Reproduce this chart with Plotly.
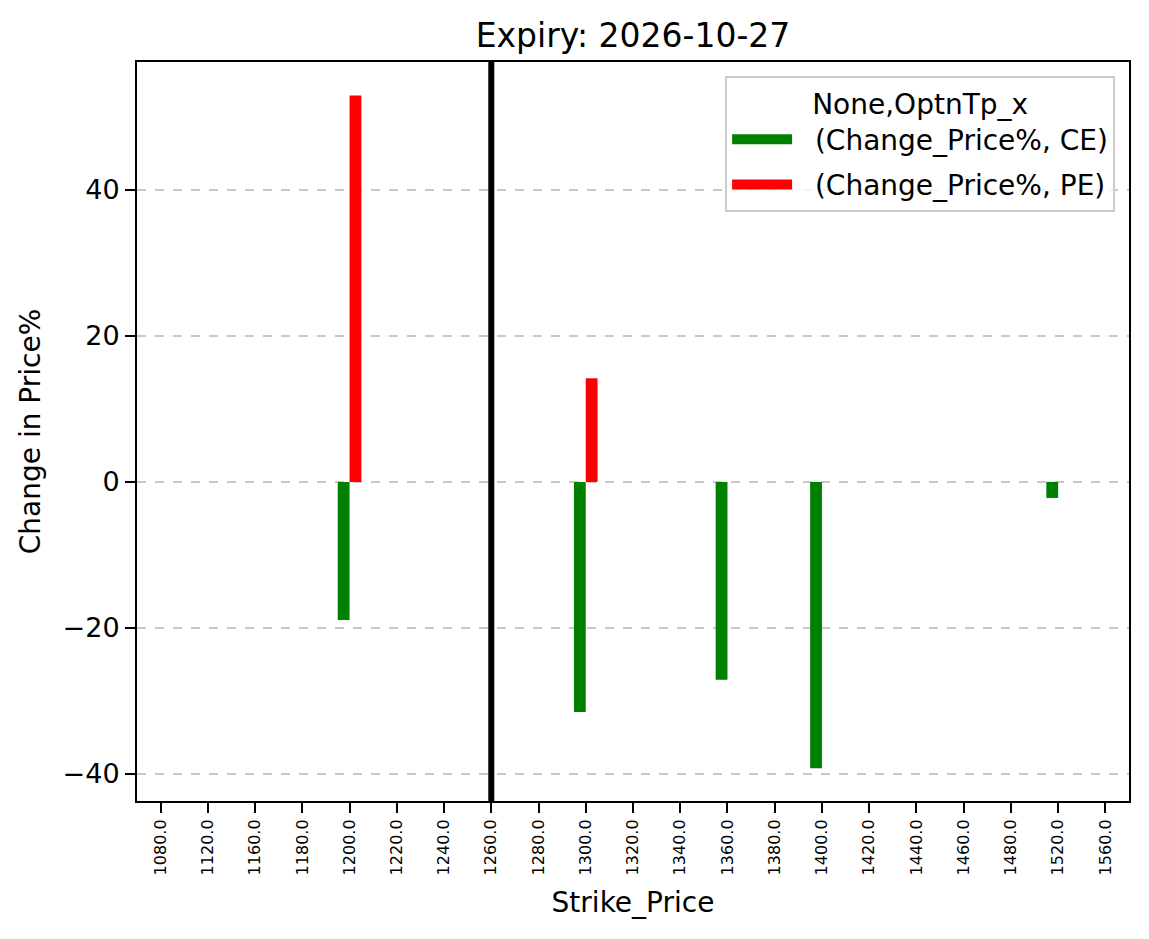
import plotly.graph_objects as go

# strike prices on the x axis (categorical, like pandas bar plot)
strikes = [1080, 1120, 1160, 1180, 1200, 1220, 1240, 1260, 1280, 1300, 1320,
           1340, 1360, 1380, 1400, 1420, 1440, 1460, 1480, 1520, 1560]

# Change_Price% per option type, None where there is no bar
ce_change = [None, None, None, None, -18.9, None, None, None, None, -31.5, None,
             None, -27.1, None, -39.2, None, None, None, None, -2.2, None]
pe_change = [None, None, None, None, 52.9, None, None, None, None, 14.2, None,
             None, None, None, None, None, None, None, None, None, None]

series_names = ["(Change_Price%, CE)", "(Change_Price%, PE)"]
series_colors = ["#008000", "#ff0000"]

spot_strike = 1260
expiry = "2026-10-27"

FONT = "DejaVu Sans"
# the page body adds an 8px margin, so the figure is a bit smaller than the window
W, H = 1141, 931


def build_fig():
    """
    Grouped bar chart of price change for calls and puts per strike
    """
    labels = [f"{s:.1f}" for s in strikes]

    fig = go.Figure()
    for vals, name, color in zip([ce_change, pe_change], series_names, series_colors):
        fig.add_trace(go.Bar(x=labels, y=vals, name=name, showlegend=False,
                             marker=dict(color=color, line=dict(width=0))))
    # legend entries drawn as wide patches, like matplotlib
    for name, color in zip(series_names, series_colors):
        fig.add_trace(go.Scatter(x=[None], y=[None], mode="lines",
                                 name="\u00a0\u00a0" + name, legendgroup=name,
                                 line=dict(color=color, width=18)))

    # black line at the current strike
    fig.add_shape(type="line", xref="x", yref="paper",
                  x0=strikes.index(spot_strike), x1=strikes.index(spot_strike),
                  y0=0, y1=1, line=dict(color="black", width=6))

    fig.update_layout(
        width=W, height=H,
        barmode="group", bargap=0.5, bargroupgap=0,
        plot_bgcolor="white", paper_bgcolor="white",
        font=dict(family=FONT, size=27, color="black"),
        margin=dict(l=129, r=20, t=54, b=138),
        title=dict(text=f"Expiry: {expiry}", x=0.5, xref="paper", xanchor="center",
                   y=1 - 27 / H, yanchor="middle", font=dict(size=33)),
        showlegend=True,
        legend=dict(x=0.986, y=0.981, xanchor="right", yanchor="top",
                    bgcolor="rgba(255,255,255,0.8)", bordercolor="#cccccc", borderwidth=2,
                    itemwidth=60, tracegroupgap=6,
                    title=dict(text="None,OptnTp_x", side="top center", font=dict(size=28)),
                    font=dict(size=28)),
    )

    fig.update_xaxes(
        type="category", range=[-0.5, len(strikes) - 0.5],
        tickangle=-90, tickfont=dict(size=16),
        ticks="outside", ticklen=10, tickwidth=2, tickcolor="black",
        showline=True, linecolor="black", linewidth=2, mirror=True,
        showgrid=False,
        title=dict(text="Strike_Price", standoff=18, font=dict(size=28)),
    )
    fig.update_yaxes(
        range=[-43.7, 57.5],
        tickvals=[-40, -20, 0, 20, 40], ticktext=["\u221240", "\u221220", "0", "20", "40"],
        ticks="outside", ticklen=10, tickwidth=2, tickcolor="black",
        showline=True, linecolor="black", linewidth=2, mirror=True,
        showgrid=True, gridcolor="rgba(176,176,176,0.7)", gridwidth=1.5, griddash="dash",
        zeroline=False,
        title=dict(text="Change in Price%", standoff=14, font=dict(size=28)),
    )
    return fig


fig = build_fig()
fig.write_html("out.html")
